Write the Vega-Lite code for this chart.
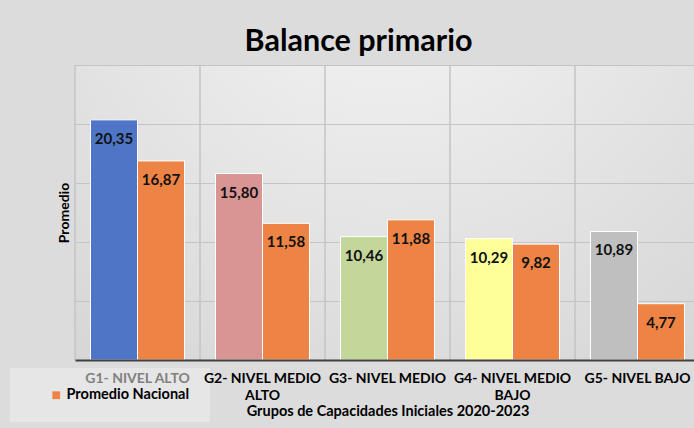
{
  "$schema": "https://vega.github.io/schema/vega-lite/v6.json",
  "width": 625,
  "height": 295,
  "autosize": "none",
  "padding": {"left": 75, "top": 65, "right": 0, "bottom": 68},
  "background": "#dcdcdc",
  "config": {
    "locale": {"number": {"decimal": ",", "thousands": ".", "grouping": [3], "currency": ["", " €"]}},
    "font": "Lato",
    "view": {
      "stroke": null,
      "fill": {"gradient": "radial", "x1": 0.5, "y1": 0.05, "r1": 0, "x2": 0.5, "y2": 0.05, "r2": 0.95,
        "stops": [{"offset": 0, "color": "#f6f6f6"}, {"offset": 1, "color": "#d2d2d2"}]}
    }
  },
  "title": {"text": "Balance primario", "fontSize": 30.5, "fontWeight": "bold", "color": "#000000", "anchor": "middle", "dx": -29, "offset": 7, "font": "Lato"},
  "data": {"values": [
    {"grupo": "G1- NIVEL ALTO", "serie": "G1- NIVEL ALTO", "tipo": "Grupo", "valor": 20.35},
    {"grupo": "G1- NIVEL ALTO", "serie": "Promedio Nacional", "tipo": "Promedio Nacional", "valor": 16.87},
    {"grupo": "G2- NIVEL MEDIO ALTO", "serie": "G2- NIVEL MEDIO ALTO", "tipo": "Grupo", "valor": 15.80},
    {"grupo": "G2- NIVEL MEDIO ALTO", "serie": "Promedio Nacional", "tipo": "Promedio Nacional", "valor": 11.58},
    {"grupo": "G3- NIVEL MEDIO", "serie": "G3- NIVEL MEDIO", "tipo": "Grupo", "valor": 10.46},
    {"grupo": "G3- NIVEL MEDIO", "serie": "Promedio Nacional", "tipo": "Promedio Nacional", "valor": 11.88},
    {"grupo": "G4- NIVEL MEDIO BAJO", "serie": "G4- NIVEL MEDIO BAJO", "tipo": "Grupo", "valor": 10.29},
    {"grupo": "G4- NIVEL MEDIO BAJO", "serie": "Promedio Nacional", "tipo": "Promedio Nacional", "valor": 9.82},
    {"grupo": "G5- NIVEL BAJO", "serie": "G5- NIVEL BAJO", "tipo": "Grupo", "valor": 10.89},
    {"grupo": "G5- NIVEL BAJO", "serie": "Promedio Nacional", "tipo": "Promedio Nacional", "valor": 4.77}
  ]},
  "layer": [
    {
      "mark": {"type": "bar", "stroke": "#ffffff", "strokeWidth": 1},
      "encoding": {
        "x": {"field": "grupo", "type": "nominal", "sort": null,
          "scale": {"paddingInner": 0, "paddingOuter": 0},
          "axis": {
            "bandPosition": 0.5, "zindex": 1,
            "title": "Grupos de Capacidades Iniciales 2020-2023",
            "titleFontSize": 14.5, "titleFontWeight": "bold", "titleColor": "#000000", "titlePadding": 2,
            "labelAngle": 0, "labelFontSize": 14, "labelFontWeight": "bold",
            "labelColor": {"condition": {"test": "datum.value == 'G1- NIVEL ALTO'", "value": "#808080"}, "value": "#000000"},
            "labelPadding": 11, "labelLineHeight": 17, "labelLimit": 0,
            "labelExpr": "length(datum.value) > 15 ? [substring(datum.value, 0, lastindexof(datum.value, ' ')), substring(datum.value, lastindexof(datum.value, ' ') + 1)] : datum.value",
            "ticks": false, "domainColor": "#3f3f3f", "domainWidth": 2, "grid": false
          }
        },
        "xOffset": {"field": "tipo", "type": "nominal", "scale": {"paddingInner": 0, "paddingOuter": 0.33}},
        "y": {"field": "valor", "type": "quantitative",
          "scale": {"domain": [0, 25], "nice": false},
          "axis": {"title": "Promedio", "titleFontSize": 14, "titleFontWeight": "bold", "titleColor": "#000000",
            "titlePadding": 4, "labels": false, "ticks": false, "domain": false,
            "values": [0, 5, 10, 15, 20, 25], "gridColor": "#c4c4c4", "gridWidth": 1}
        },
        "color": {"field": "serie", "type": "nominal",
          "scale": {"domain": ["G1- NIVEL ALTO", "G2- NIVEL MEDIO ALTO", "G3- NIVEL MEDIO", "G4- NIVEL MEDIO BAJO", "G5- NIVEL BAJO", "Promedio Nacional"],
            "range": ["#4f76c6", "#d99594", "#c4d79b", "#ffff99", "#bfbfbf", "#ed8445"]},
          "legend": {"values": ["Promedio Nacional"], "title": null, "orient": "none", "legendX": -65, "legendY": 303,
            "labelFontSize": 14.5, "labelFontWeight": "bold", "labelColor": "#000000", "labelOffset": 3,
            "symbolType": "square", "symbolSize": 60, "symbolStrokeWidth": 0,
            "padding": 20, "symbolOffset": 19, "fillColor": "rgba(236,236,236,0.6)"}
        }
      }
    },
    {
      "mark": {"type": "rule", "color": "#c4c4c4", "strokeWidth": 1},
      "encoding": {
        "x": {"field": "grupo", "type": "nominal", "sort": null, "bandPosition": 0}
      }
    },
    {
      "mark": {"type": "text", "baseline": "middle", "dy": 19, "fontSize": 15, "fontWeight": "bold", "color": "#111111"},
      "encoding": {
        "x": {"field": "grupo", "type": "nominal", "sort": null},
        "xOffset": {"field": "tipo", "type": "nominal"},
        "y": {"field": "valor", "type": "quantitative"},
        "text": {"field": "valor", "type": "quantitative", "format": ".2f"}
      }
    }
  ]
}
